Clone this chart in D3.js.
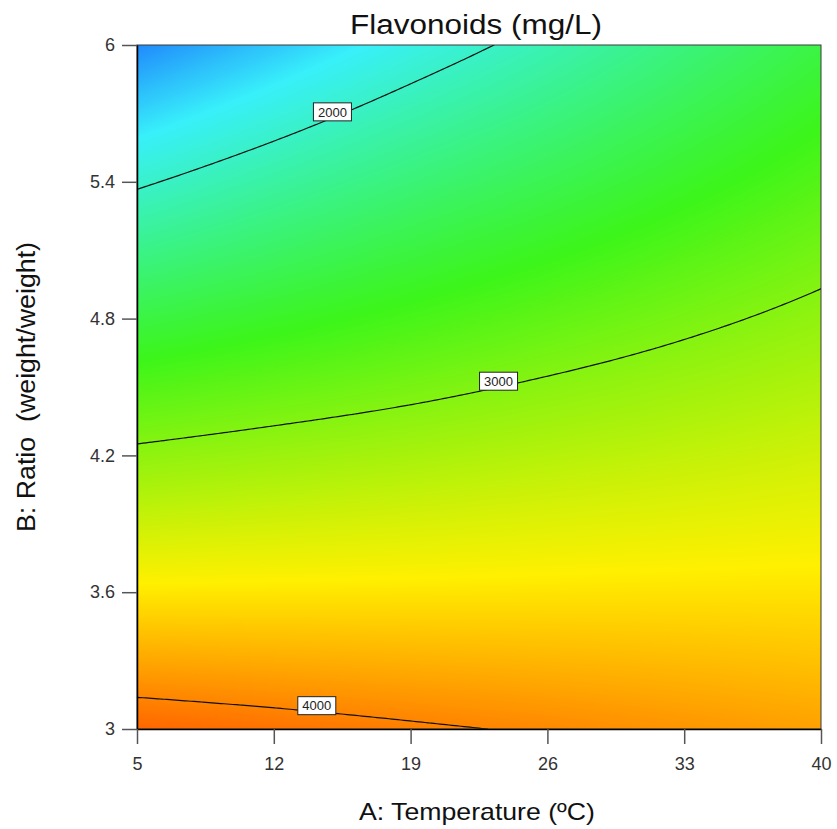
<!DOCTYPE html>
<html>
<head>
<meta charset="utf-8">
<script src="https://cdn.jsdelivr.net/npm/d3@7"></script>
<style>
  body { margin: 0; background: #fff; }
  text { font-family: "Liberation Sans", Arial, sans-serif; }
</style>
</head>
<body>
<div id="chart"></div>
<script>
// A: Temperature (oC) grid / tick values
const tempTicks = [5, 12, 19, 26, 33, 40];
// B: Ratio grid / tick values
const ratioTicks = [3, 3.6, 4.2, 4.8, 5.4, 6];
// Flavonoids (mg/L), rows = ratio 3 -> 6, cols = temperature 5 -> 40
const flavonoids = [
    [4125, 4075, 4025, 3980, 3930, 3880],
    [3585, 3590, 3595, 3600, 3605, 3605],
    [3045, 3105, 3160, 3220, 3275, 3335],
    [2510, 2620, 2730, 2840, 2950, 3060],
    [1970, 2145, 2310, 2460, 2620, 2785],
    [1430, 1650, 1875, 2080, 2295, 2510]
];
const contourLevels = [2000, 3000, 4000];
const labelTemps = [15, 23.5, 14.2];

const width = 837;
const height = 829;
const x0 = 137, x1 = 821, y0 = 45, y1 = 729;

const xScale = d3.scaleLinear().domain([5, 40]).range([x0, x1]);
const yScale = d3.scaleLinear().domain([3, 6]).range([y1, y0]);
const colIndex = d3.scaleLinear().domain(d3.extent(tempTicks)).range([0, tempTicks.length - 1]);
const rowIndex = d3.scaleLinear().domain(d3.extent(ratioTicks)).range([0, ratioTicks.length - 1]);

const color = d3.scaleLinear()
    .domain([925, 1800, 2675, 3550, 4425])
    .range(["#0000ff", "#38f0fa", "#3cf51a", "#fff000", "#ff1e00"])
    .clamp(true);

// smooth (catmull-rom) reading between the grid values
function padded(arr) {
    const n = arr.length;
    return [3 * arr[0] - 3 * arr[1] + arr[2]].concat(arr, [3 * arr[n - 1] - 3 * arr[n - 2] + arr[n - 3]]);
}
function cubic(p, u) {
    const i = Math.max(0, Math.min(Math.floor(u), p.length - 4));
    const t = u - i;
    const p0 = p[i], p1 = p[i + 1], p2 = p[i + 2], p3 = p[i + 3];
    return 0.5 * (2 * p1 + (p2 - p0) * t + (2 * p0 - 5 * p1 + 4 * p2 - p3) * t * t + (3 * p1 - p0 - 3 * p2 + p3) * t * t * t);
}
const paddedRows = flavonoids.map(padded);
function columnAt(a) {
    const u = colIndex(a);
    return padded(paddedRows.map(r => cubic(r, u)));
}
function surface(a, b) {
    return cubic(columnAt(a), rowIndex(b));
}

const svg = d3.select("#chart").append("svg")
    .attr("width", width)
    .attr("height", height)
    .style("display", "block");

// filled surface
const W = x1 - x0, H = y1 - y0;
const canvas = document.createElement("canvas");
canvas.width = W;
canvas.height = H;
const ctx = canvas.getContext("2d");
const img = ctx.createImageData(W, H);
const lut = d3.range(1024).map(i => d3.rgb(color(900 + i * 3.6)));
for (let px = 0; px < W; px++) {
    const col = columnAt(xScale.invert(x0 + px + 0.5));
    for (let py = 0; py < H; py++) {
        const v = cubic(col, rowIndex(yScale.invert(y0 + py + 0.5)));
        const c = lut[Math.max(0, Math.min(1023, Math.round((v - 900) / 3.6)))];
        const k = (py * W + px) * 4;
        img.data[k] = c.r; img.data[k + 1] = c.g; img.data[k + 2] = c.b; img.data[k + 3] = 255;
    }
}
ctx.putImageData(img, 0, 0);

svg.append("image")
    .attr("x", x0).attr("y", y0)
    .attr("width", W).attr("height", H)
    .attr("preserveAspectRatio", "none")
    .attr("href", canvas.toDataURL());

// contour lines
const n = 229;
const field = new Array(n * n);
for (let j = 0; j < n; j++) {
    const b = yScale.invert(y0 + j / (n - 1) * H);
    for (let i = 0; i < n; i++) {
        field[j * n + i] = surface(xScale.invert(x0 + i / (n - 1) * W), b);
    }
}
const contours = d3.contours().size([n, n]).thresholds(contourLevels)(field);
const toPlot = d3.geoTransform({
    point: function(x, y) {
        this.stream.point(x0 + (x - 0.5) / (n - 1) * W, y0 + (y - 0.5) / (n - 1) * H);
    }
});

svg.append("clipPath").attr("id", "plot-clip")
    .append("rect").attr("x", x0).attr("y", y0).attr("width", W).attr("height", H);

svg.append("g")
    .attr("clip-path", "url(#plot-clip)")
    .selectAll("path")
    .data(contours)
    .enter().append("path")
    .attr("d", d3.geoPath(toPlot))
    .attr("fill", "none")
    .attr("stroke", "#111")
    .attr("stroke-width", 1.2);

// frame
svg.append("rect")
    .attr("x", x0).attr("y", y0).attr("width", W).attr("height", H)
    .attr("fill", "none").attr("stroke", "#3a3a3a").attr("stroke-width", 1);

// contour labels
function ratioOnLevel(a, level) {
    let lo = 3, hi = 6;
    for (let k = 0; k < 40; k++) {
        const mid = (lo + hi) / 2;
        if (surface(a, mid) > level) lo = mid; else hi = mid;
    }
    return (lo + hi) / 2;
}
const labels = svg.append("g").selectAll("g")
    .data(contourLevels.map((lv, i) => ({level: lv, a: labelTemps[i], b: ratioOnLevel(labelTemps[i], lv)})))
    .enter().append("g")
    .attr("transform", d => `translate(${xScale(d.a)},${yScale(d.b) - 6})`);
labels.append("rect")
    .attr("x", -19).attr("y", -9).attr("width", 38).attr("height", 18)
    .attr("fill", "#fff").attr("stroke", "#222").attr("stroke-width", 1);
labels.append("text")
    .attr("text-anchor", "middle")
    .attr("dy", "0.36em")
    .style("font-size", "13px")
    .attr("fill", "#222")
    .text(d => d.level);

// axes
const yAxis = svg.append("g")
    .attr("transform", `translate(${x0},0)`)
    .call(d3.axisLeft(yScale).tickValues(ratioTicks).tickFormat(d => d).tickSize(15).tickSizeOuter(0).tickPadding(7));
const xAxis = svg.append("g")
    .attr("transform", `translate(0,${y1})`)
    .call(d3.axisBottom(xScale).tickValues(tempTicks).tickFormat(d => d).tickSize(15).tickSizeOuter(0).tickPadding(13));

[xAxis, yAxis].forEach(ax => {
    ax.attr("font-size", null).attr("font-family", null);
    ax.select(".domain").attr("stroke", "#000").attr("stroke-width", 1.5);
    ax.selectAll(".tick line").attr("stroke", "#555").attr("stroke-width", 1.5);
    ax.selectAll(".tick text")
        .style("font-size", "18px")
        .attr("fill", "#333");
});

// titles
svg.append("text")
    .attr("x", 476).attr("y", 34)
    .attr("text-anchor", "middle")
    .attr("textLength", 252).attr("lengthAdjust", "spacingAndGlyphs")
    .style("font-size", "27px")
    .attr("fill", "#111")
    .text("Flavonoids (mg/L)");

svg.append("text")
    .attr("x", 477).attr("y", 820)
    .attr("text-anchor", "middle")
    .attr("textLength", 236).attr("lengthAdjust", "spacingAndGlyphs")
    .style("font-size", "24px")
    .attr("fill", "#111")
    .text("A: Temperature (ºC)");

svg.append("text")
    .attr("transform", "translate(35,387) rotate(-90)")
    .attr("text-anchor", "middle")
    .attr("textLength", 290).attr("lengthAdjust", "spacingAndGlyphs")
    .style("font-size", "25px")
    .style("white-space", "pre")
    .attr("fill", "#111")
    .text("B: Ratio  (weight/weight)");
</script>
</body>
</html>
